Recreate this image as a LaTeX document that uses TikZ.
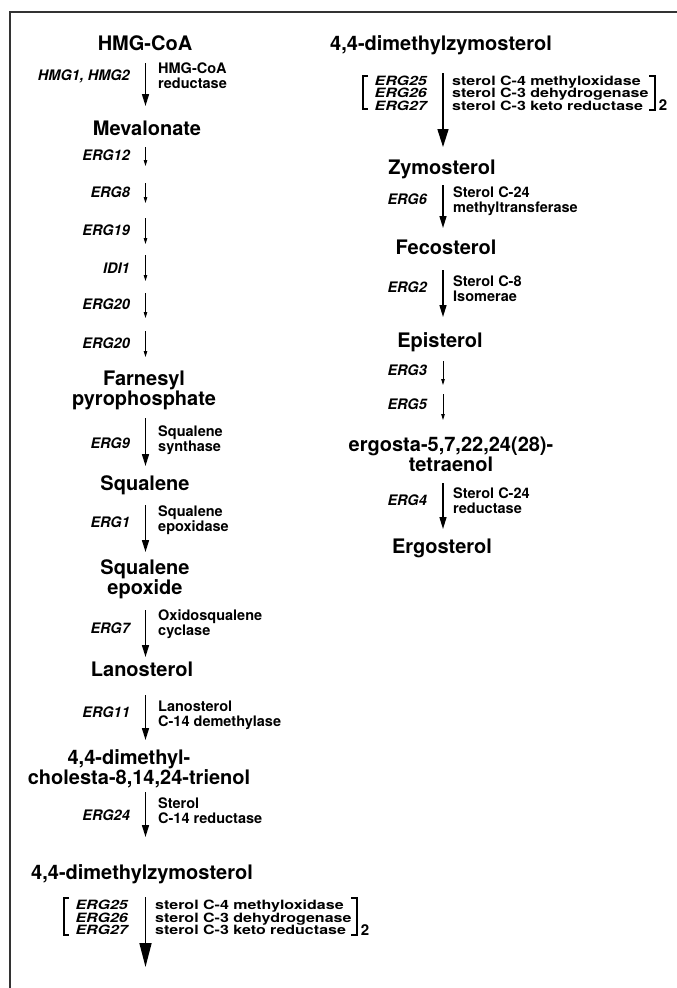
\documentclass[tikz,border=0pt]{standalone}
\usepackage{fontspec}
\usepackage{graphicx}
\setmainfont{TeX Gyre Heros}
\usetikzlibrary{arrows.meta}
\begin{document}
\begin{tikzpicture}[x=1pt,y=1pt,
  met/.style={font=\fontsize{20}{20}\selectfont\bfseries, inner sep=0pt, align=center},
  gene/.style={font=\fontsize{14.5}{15}\selectfont\bfseries\itshape, inner sep=0pt, anchor=base east},
  enz/.style={font=\fontsize{14.5}{15}\selectfont\bfseries, inner sep=0pt, align=left, anchor=west},
  grpgene/.style={font=\fontsize{16}{13}\selectfont\bfseries\itshape, inner sep=0pt, anchor=east},
  grpenz/.style={font=\fontsize{16}{13}\selectfont\bfseries, inner sep=0pt, anchor=west},
  subtwo/.style={font=\fontsize{15}{15}\selectfont\bfseries, inner sep=0pt},
  bigarr/.style={line width=1.5pt, -{Triangle[length=12pt,width=7pt]}},
  smallarr/.style={line width=0.9pt, -{Triangle[length=6pt,width=3.5pt]}},
  grparrR/.style={line width=1.6pt, -{Triangle[length=18pt,width=11pt]}},
  grparrL/.style={line width=1.6pt, -{Triangle[length=24pt,width=12pt]}},
  brk/.style={line width=2.4pt},
  frameline/.style={line width=1.7pt, black!80}]
\useasboundingbox (0,0) rectangle (677,-988);
\fill[white] (0,0) rectangle (677,-988);
\draw[frameline] (10,-988) -- (10,-12) -- (677,-12);

% ---------------- left column metabolites
\node[met, anchor=base] (hmg) at (145,-50) {HMG-CoA};
\node[met, anchor=base] (mev) at (147,-135.5) {Mevalonate};
\node[met] (fpp) at (144,-390) {Farnesyl\\pyrophosphate};
\node[met, anchor=base] (sq) at (145,-490) {Squalene};
\node[met] (sqe) at (145,-579.6) {Squalene\\epoxide};
\node[met, anchor=base] (lan) at (142,-676) {Lanosterol};
\node[met] (dmc) at (139,-769) {4,4-dimethyl-\hspace*{20pt}\\cholesta-8,14,24-trienol};
\node[met, anchor=base] (dmz) at (142,-879) {4,4-dimethylzymosterol};

% ---------------- right column metabolites
\node[met, anchor=base] (dmzR) at (441,-50) {4,4-dimethylzymosterol};
\node[met, anchor=base] (zym) at (442,-174) {Zymosterol};
\node[met, anchor=base] (fec) at (446,-254) {Fecosterol};
\node[met, anchor=base] (epi) at (440,-347) {Episterol};
\node[met] (erg) at (451,-454.6) {ergosta-5,7,22,24(28)-\\tetraenol};
\node[met, anchor=base] (ergo) at (442,-553) {Ergosterol};

% ---------------- left column genes
\node[gene] (g1) at (130,-80) {HMG1, HMG2};
\node[gene] (g2) at (130,-160) {ERG12};
\node[gene] (g3) at (130,-197) {ERG8};
\node[gene] (g4) at (130,-235) {ERG19};
\node[gene] (g5) at (130,-273) {IDI1};
\node[gene] (g6) at (130,-309) {ERG20};
\node[gene] (g7) at (130,-348) {ERG20};
\node[gene] (g8) at (130,-448) {ERG9};
\node[gene] (g9) at (130,-527) {ERG1};
\node[gene] (g10) at (130,-633) {ERG7};
\node[gene] (g11) at (130,-717) {ERG11};
\node[gene] (g12) at (130,-820) {ERG24};

% ---------------- left column enzymes
\node[enz] (e1) at (158,-75.5) {HMG-CoA\\reductase};
\node[enz] (e8) at (158,-440) {Squalene\\synthase};
\node[enz] (e9) at (158,-520) {Squalene\\epoxidase};
\node[enz] (e10) at (158,-624) {Oxidosqualene\\cyclase};
\node[enz] (e11) at (158,-715.5) {Lanosterol\\C-14 demethylase};
\node[enz] (e12) at (158,-810.5) {Sterol\\C-14 reductase};

% ---------------- right column genes and enzymes
\node[gene] (gR2) at (427,-204) {ERG6};
\node[gene] (gR3) at (427,-292) {ERG2};
\node[gene] (gR4) at (427,-375) {ERG3};
\node[gene] (gR5) at (427,-409) {ERG5};
\node[gene] (gR6) at (427,-505) {ERG4};
\node[enz] (eR2) at (453,-201) {Sterol C-24\\methyltransferase};
\node[enz] (eR3) at (453,-289) {Sterol C-8\\Isomerae};
\node[enz] (eR6) at (453,-500.5) {Sterol C-24\\reductase};

% ---------------- bracket groups
\node[grpgene] (grpgR) at (427,-94.5) {\scalebox{1}[0.8]{\begin{tabular}{@{}l@{}}ERG25\\ERG26\\ERG27\end{tabular}}};
\node[grpenz] (grpeR) at (452,-94.5) {\scalebox{1}[0.8]{\begin{tabular}{@{}l@{}}sterol C-4 methyloxidase\\sterol C-3 dehydrogenase\\sterol C-3 keto reductase\end{tabular}}};
\draw[brk] (368,-76) -- (363,-76) -- (363,-109) -- (368,-109);
\draw[brk] (649,-76) -- (655,-76) -- (655,-110) -- (649,-110);
\node[subtwo] (twoR) at (663,-105) {2};

\node[grpgene] (grpgL) at (128,-919) {\scalebox{1}[0.8]{\begin{tabular}{@{}l@{}}ERG25\\ERG26\\ERG27\end{tabular}}};
\node[grpenz] (grpeL) at (155,-919) {\scalebox{1}[0.8]{\begin{tabular}{@{}l@{}}sterol C-4 methyloxidase\\sterol C-3 dehydrogenase\\sterol C-3 keto reductase\end{tabular}}};
\draw[brk] (69,-898) -- (64,-898) -- (64,-935) -- (69,-935);
\draw[brk] (351,-898) -- (357,-898) -- (357,-935) -- (351,-935);
\node[subtwo] (twoL) at (365,-930) {2};

% ---------------- arrows, left column
\coordinate (a1s) at (145.5,-63);  \coordinate (a1e) at (145.5,-106);
\coordinate (a2s) at (145.5,-147); \coordinate (a2e) at (145.5,-166);
\coordinate (a3s) at (145.5,-183); \coordinate (a3e) at (145.5,-203);
\coordinate (a4s) at (145.5,-218); \coordinate (a4e) at (145.5,-244);
\coordinate (a5s) at (145.5,-255); \coordinate (a5e) at (145.5,-281);
\coordinate (a6s) at (145.5,-293); \coordinate (a6e) at (145.5,-318);
\coordinate (a7s) at (145.5,-331); \coordinate (a7e) at (145.5,-357);
\coordinate (a8s) at (145.5,-418); \coordinate (a8e) at (145.5,-466);
\coordinate (a9s) at (145.5,-505); \coordinate (a9e) at (145.5,-552);
\coordinate (a10s) at (145.5,-610); \coordinate (a10e) at (145.5,-657);
\coordinate (a11s) at (145.5,-695); \coordinate (a11e) at (145.5,-740);
\coordinate (a12s) at (145.5,-792); \coordinate (a12e) at (145.5,-837);
\coordinate (a13s) at (145.5,-897); \coordinate (a13e) at (145.5,-967);
\draw[bigarr] (a1s) -- (a1e);
\draw[smallarr] (a2s) -- (a2e);
\draw[smallarr] (a3s) -- (a3e);
\draw[smallarr] (a4s) -- (a4e);
\draw[smallarr] (a5s) -- (a5e);
\draw[smallarr] (a6s) -- (a6e);
\draw[smallarr] (a7s) -- (a7e);
\draw[bigarr] (a8s) -- (a8e);
\draw[bigarr] (a9s) -- (a9e);
\draw[bigarr] (a10s) -- (a10e);
\draw[bigarr] (a11s) -- (a11e);
\draw[bigarr] (a12s) -- (a12e);
\draw[grparrL] (a13s) -- (a13e);

% ---------------- arrows, right column
\coordinate (b1s) at (443,-73);  \coordinate (b1e) at (443,-147);
\coordinate (b2s) at (443,-185); \coordinate (b2e) at (443,-228);
\coordinate (b3s) at (443,-270); \coordinate (b3e) at (443,-317);
\coordinate (b4s) at (443,-361); \coordinate (b4e) at (443,-385);
\coordinate (b5s) at (443,-394); \coordinate (b5e) at (443,-420);
\coordinate (b6s) at (443,-483); \coordinate (b6e) at (443,-529);
\draw[grparrR] (b1s) -- (b1e);
\draw[bigarr] (b2s) -- (b2e);
\draw[bigarr] (b3s) -- (b3e);
\draw[smallarr] (b4s) -- (b4e);
\draw[smallarr] (b5s) -- (b5e);
\draw[bigarr] (b6s) -- (b6e);
\end{tikzpicture}
\end{document}
